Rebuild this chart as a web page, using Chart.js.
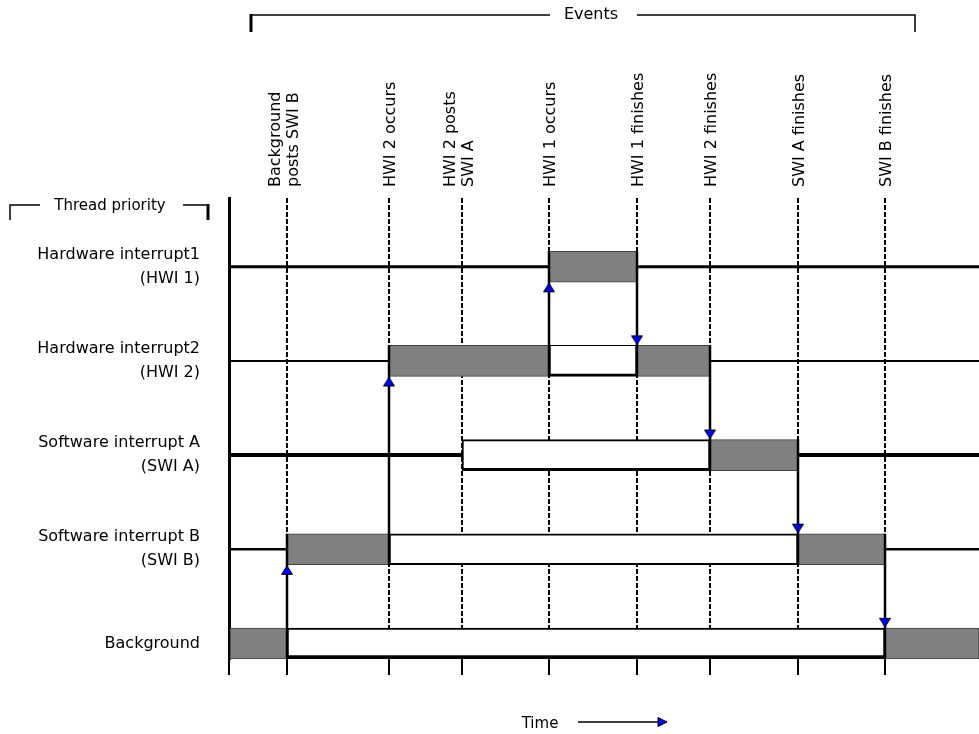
<!DOCTYPE html>
<html>
<head>
<meta charset="utf-8">
<title>Thread priority timeline</title>
<script src="https://cdn.jsdelivr.net/npm/chart.js@4.4.1/dist/chart.umd.min.js"></script>
<style>
  html, body { margin: 0; padding: 0; background: #fff; }
  #wrap { width: 979px; height: 734px; position: relative; }
</style>
</head>
<body>
<div id="wrap"><canvas id="chart"></canvas></div>
<script>
// Time runs 0..75 (arbitrary ticks). Priority levels: 0 = background ... 4 = HWI 1
const timeMax = 75;
const levelMax = 4.73;
const eventTimes = [5.8, 16.0, 23.3, 32.0, 40.8, 48.1, 56.9, 65.6];
const eventLabels = [
  ["Background", "posts SWI B"],
  ["HWI 2 occurs"],
  ["HWI 2 posts", "SWI A"],
  ["HWI 1 occurs"],
  ["HWI 1 finishes"],
  ["HWI 2 finishes"],
  ["SWI A finishes"],
  ["SWI B finishes"]
];
const threadLevels = [0, 1, 2, 3, 4];
const threadLabels = [
  ["Background"],
  ["Software interrupt B", "(SWI B)"],
  ["Software interrupt A", "(SWI A)"],
  ["Hardware interrupt2", "(HWI 2)"],
  ["Hardware interrupt1", "(HWI 1)"]
];
// [level, start, end]
const running = [
  [0, 0, 5.8], [1, 5.8, 16.0], [3, 16.0, 32.0], [4, 32.0, 40.8],
  [3, 40.8, 48.1], [2, 48.1, 56.9], [1, 56.9, 65.6], [0, 65.6, 75]
];
const preempted = [
  [0, 5.8, 65.6], [1, 16.0, 56.9], [2, 23.3, 48.1], [3, 32.0, 40.8]
];
const idle = [
  [1, 0, 5.8], [1, 65.6, 75],
  [2, 0, 23.3], [2, 56.9, 75],
  [3, 0, 16.0], [3, 48.1, 75],
  [4, 0, 32.0], [4, 40.8, 75]
];
// [time, from level, to level]
const switches = [
  [5.8, 0, 1], [16.0, 1, 3], [32.0, 3, 4], [40.8, 4, 3],
  [48.1, 3, 2], [56.9, 2, 1], [65.6, 1, 0]
];

// styles
const BOX_HALF = 0.165; // half box height, in priority units
const idleWidth = {1: 2.5, 2: 4, 3: 2, 4: 3};
const preemptBorder = {
  0: {top: 2, bottom: 4, left: 2, right: 2},
  1: {top: 2, bottom: 2, left: 2, right: 2},
  2: {top: 2, bottom: 3, left: 2, right: 2},
  3: {top: 1, bottom: 3, left: 2, right: 2}
};
const FONT = '"DejaVu Sans", sans-serif';

Chart.defaults.font.family = FONT;
Chart.defaults.color = '#000';

// blue arrow head, tip just below the centre so it sits outside the box edge
function makeArrow() {
  const c = document.createElement('canvas');
  c.width = 14; c.height = 26;
  const g = c.getContext('2d');
  g.beginPath();
  g.moveTo(7, 14);
  g.lineTo(12.5, 22.5);
  g.lineTo(1.5, 22.5);
  g.closePath();
  g.fillStyle = '#0000ff';
  g.fill();
  g.strokeStyle = '#000';
  g.lineWidth = 1;
  g.stroke();
  return c;
}
const arrow = makeArrow();

const datasets = [];

switches.forEach(([t, from, to]) => {
  const dir = to > from ? 1 : -1;
  datasets.push({
    type: 'line',
    data: [
      {x: t, y: from - dir * BOX_HALF},
      {x: t, y: to - dir * BOX_HALF},
      {x: t, y: to + dir * BOX_HALF}
    ],
    borderColor: '#000',
    borderWidth: 2.5,
    pointRadius: [0, 6, 0],
    pointStyle: arrow,
    pointRotation: dir > 0 ? 0 : 180,
    order: 0
  });
});

datasets.push({
  type: 'bar',
  indexAxis: 'y',
  grouped: false,
  data: running.map(([lvl, s, e]) => ({x: [s, e], y: lvl})),
  backgroundColor: '#808080',
  borderColor: '#404040',
  borderWidth: 1,
  borderSkipped: false,
  barThickness: 31,
  maxBarThickness: 31,
  order: 1
});

datasets.push({
  type: 'bar',
  indexAxis: 'y',
  grouped: false,
  data: preempted.map(([lvl, s, e]) => ({x: [s, e], y: lvl})),
  backgroundColor: '#ffffff',
  borderColor: '#000',
  borderWidth: c => (c.raw ? preemptBorder[c.raw.y] : 2),
  borderSkipped: false,
  barThickness: 31,
  maxBarThickness: 31,
  order: 1
});

idle.forEach(([lvl, s, e]) => {
  datasets.push({
    type: 'line',
    data: [{x: s, y: lvl}, {x: e, y: lvl}],
    borderColor: '#000',
    borderWidth: idleWidth[lvl],
    pointRadius: 0,
    order: 2
  });
});

// brackets, rotated event names, "Time" arrow
const decor = {
  id: 'decor',
  afterDraw(chart) {
    const {ctx, chartArea} = chart;
    const x = chart.scales.x;
    ctx.save();
    ctx.fillStyle = '#000';
    ctx.strokeStyle = '#000';

    // event names, reading bottom to top
    ctx.font = '16px ' + FONT;
    ctx.textAlign = 'left';
    ctx.textBaseline = 'middle';
    eventTimes.forEach((t, i) => {
      const lines = eventLabels[i];
      const px = x.getPixelForValue(t) + (lines.length > 1 ? -2 : 2);
      lines.forEach((ln, j) => {
        ctx.save();
        ctx.translate(px + (j - (lines.length - 1) / 2) * 18, chartArea.top - 11);
        ctx.rotate(-Math.PI / 2);
        ctx.fillText(ln, 0, 0);
        ctx.restore();
      });
    });

    // Events bracket
    ctx.lineWidth = 1.5;
    ctx.beginPath();
    ctx.moveTo(251, 15); ctx.lineTo(550, 15);
    ctx.moveTo(637, 15); ctx.lineTo(915, 15); ctx.lineTo(915, 32);
    ctx.stroke();
    ctx.lineWidth = 3;
    ctx.beginPath();
    ctx.moveTo(251, 14); ctx.lineTo(251, 32);
    ctx.stroke();
    ctx.textAlign = 'center';
    ctx.fillText('Events', 591, 15);

    // Thread priority bracket
    ctx.font = '15px ' + FONT;
    ctx.lineWidth = 1.5;
    ctx.beginPath();
    ctx.moveTo(10, 220); ctx.lineTo(10, 205); ctx.lineTo(40, 205);
    ctx.moveTo(183, 205); ctx.lineTo(208, 205);
    ctx.stroke();
    ctx.lineWidth = 3;
    ctx.beginPath();
    ctx.moveTo(208, 204); ctx.lineTo(208, 220);
    ctx.stroke();
    ctx.fillText('Thread priority', 110, 206);

    // Time arrow
    ctx.fillText('Time', 540, 724);
    ctx.lineWidth = 1.5;
    ctx.beginPath();
    ctx.moveTo(578, 722); ctx.lineTo(660, 722);
    ctx.stroke();
    ctx.beginPath();
    ctx.moveTo(667, 722); ctx.lineTo(658, 717.5); ctx.lineTo(658, 726.5);
    ctx.closePath();
    ctx.fillStyle = '#0000ff';
    ctx.fill();
    ctx.lineWidth = 1;
    ctx.stroke();

    ctx.restore();
  }
};

new Chart(document.getElementById('chart'), {
  type: 'line',
  data: { datasets },
  options: {
    responsive: true,
    maintainAspectRatio: false,
    animation: false,
    events: [],
    layout: { padding: { top: 198, left: 0, right: 0, bottom: 0 } },
    plugins: {
      legend: { display: false },
      tooltip: { enabled: false }
    },
    scales: {
      x: {
        type: 'linear',
        position: 'bottom',
        min: 0,
        max: timeMax,
        offset: false,
        afterBuildTicks: s => { s.ticks = [0, ...eventTimes].map(v => ({value: v})); },
        afterFit: s => { s.height = 75; },
        ticks: { display: false, autoSkip: false },
        grid: {
          display: true,
          offset: false,
          drawOnChartArea: true,
          drawTicks: true,
          tickLength: 16,
          tickWidth: 2,
          tickColor: '#000',
          lineWidth: 2,
          color: c => (c.tick && c.tick.value === 0 ? 'rgba(0,0,0,0)' : '#000')
        },
        border: { display: false, dash: [5, 2] }
      },
      y: {
        type: 'linear',
        position: 'left',
        min: -BOX_HALF,
        max: levelMax,
        offset: false,
        afterBuildTicks: s => { s.ticks = threadLevels.map(v => ({value: v})); },
        afterFit: s => { s.width = 229; },
        ticks: {
          autoSkip: false,
          padding: 29,
          color: '#000',
          font: { family: FONT, size: 16, lineHeight: 1.5 },
          callback: v => threadLabels[threadLevels.indexOf(v)]
        },
        grid: {
          offset: false,
          drawOnChartArea: false,
          drawTicks: false,
          color: 'rgba(0,0,0,0)'
        },
        border: { display: true, color: '#000', width: 3 }
      }
    }
  },
  plugins: [decor]
});
</script>
</body>
</html>
